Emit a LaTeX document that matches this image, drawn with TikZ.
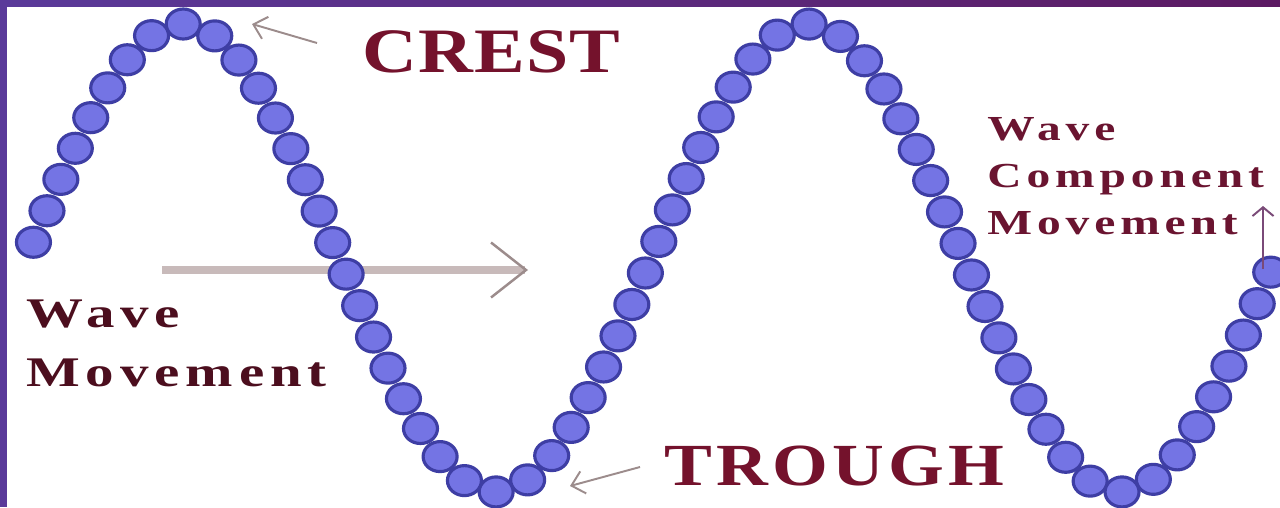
\documentclass[tikz,border=0pt]{standalone}
\usepackage{fontspec}
\setmainfont{Liberation Serif}
\newfontfamily\crestfont[FakeStretch=1.2,LetterSpace=2]{Liberation Serif}
\newfontfamily\troughfont[FakeStretch=1.2,LetterSpace=7]{Liberation Serif}
\newfontfamily\spacedfont[FakeStretch=1.35,LetterSpace=14]{Liberation Serif}
\usetikzlibrary{arrows.meta}
\usetikzlibrary{decorations.markings}

\definecolor{beadfill}{HTML}{7474E4}
\definecolor{beadline}{HTML}{3E3EA4}
\definecolor{labelred}{HTML}{74122C}
\definecolor{darkred}{HTML}{4C0E1E}
\definecolor{pinkred}{HTML}{6A1430}
\definecolor{pointer}{HTML}{9C8C8C}
\definecolor{flowline}{HTML}{C8BABA}
\definecolor{upline}{HTML}{7A4A78}
\definecolor{frameleft}{HTML}{5A3A9A}
\definecolor{frameright}{HTML}{5C1A62}

\tikzset{
  bead/.style={fill=beadfill,draw=beadline,line width=1.8pt},
  pointer/.style={draw=pointer,line width=1.1pt,-{Straight Barb[length=7pt,width=13pt]}},
  flow/.style={draw=flowline,line width=4pt,-{Straight Barb[length=0.7cm,width=1.1cm,line width=1.4pt,color=pointer]}},
  up/.style={draw=upline,line width=1.1pt,-{Straight Barb[length=5pt,width=12pt]}},
  biglabel/.style={anchor=base west,inner sep=0pt,text=labelred},
  sidelabel/.style={anchor=north west,inner sep=0pt,align=left}
}

\begin{document}
\begin{tikzpicture}[x=0.02cm,y=-0.02cm]
    \useasboundingbox (0,0) rectangle (1280,507);
    \fill[white] (0,0) rectangle (1280,507);
    % arrows behind the beads
    \coordinate (flowtail) at (162,270);
    \coordinate (flowtip) at (528,270);
    \draw[flow] (flowtail) -- (flowtip);
    \coordinate (cresttail) at (317,43);
    \coordinate (cresttip) at (252,24);
    \draw[pointer] (cresttail) -- (cresttip);
    \coordinate (troughtail) at (640,467);
    \coordinate (troughtip) at (570,486);
    \draw[pointer] (troughtail) -- (troughtip);
    % the beads
    \begin{scope}
        \clip (7,6) rectangle (1280,507);
        \path[decorate,decoration={markings,
            mark=between positions 0.254902 and 0.915 step 0.00980392 with
            {\pgftransformresetnontranslations
             \draw[bead] (0,0) ellipse [x radius=0.34cm,y radius=0.3cm];}}]
            plot[domain=-442:1433,samples=376] (\x,{258-234*cos((\x-183)*0.576)});
    \end{scope}
    \coordinate (upfoot) at (1263,269);
    \coordinate (uptip) at (1263,206);
    \draw[up] (upfoot) -- (uptip);
    % labels
    \node[biglabel,font=\crestfont\bfseries\fontsize{36}{40}\selectfont] (crest) at (362,72) {CREST};
    \node[biglabel,font=\troughfont\bfseries\fontsize{34}{40}\selectfont] (trough) at (664,485) {TROUGH};
    \node[sidelabel,text=darkred,font=\spacedfont\bfseries\fontsize{24}{33.4}\selectfont] (wave) at (26,300) {Wave\\Movement};
    \node[sidelabel,text=pinkred,font=\spacedfont\bfseries\fontsize{20}{26.7}\selectfont] (component) at (987,117) {Wave\\Component\\Movement};
    % frame
    \fill[frameleft] (0,0) rectangle (7,507);
    \shade[left color=frameleft,right color=frameright] (0,0) rectangle (1280,6);
\end{tikzpicture}
\end{document}
